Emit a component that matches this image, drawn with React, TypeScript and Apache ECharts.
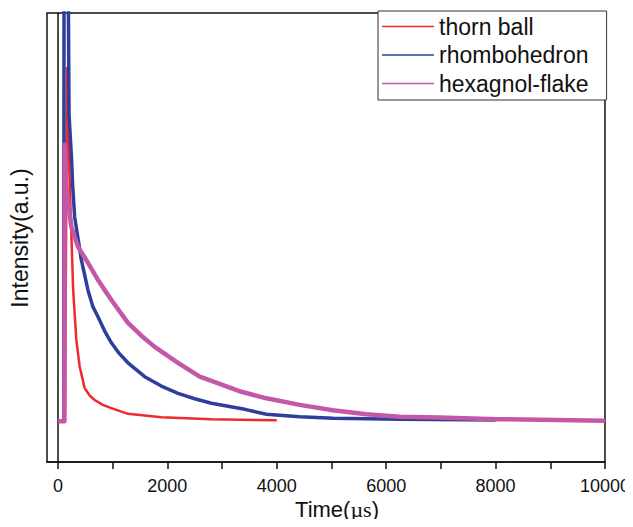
import React, { useEffect, useRef } from "react";
import * as echarts from "echarts";

// Data (time in µs, intensity in arbitrary units)
const seriesNames = ["thorn ball", "rhombohedron", "hexagnol-flake"];
const seriesColors = ["#ee2a2e", "#2f3e9c", "#c558a6"];

const thornBall: [number, number][] = [
  [0, 0], [128, 0], [168, 86.5], [196, 66.5], [278, 32.2], [336, 19.9],
  [397, 13.4], [488, 8.1], [580, 6.3], [671, 5.2], [820, 4.0], [977, 3.2],
  [1280, 1.8], [1891, 0.95], [2806, 0.45], [4000, 0.2],
];

const rhombohedron: [number, number][] = [
  [0, 0], [108, 0], [112, 130], [178, 130], [203, 75], [250, 64],
  [268, 58], [305, 50.1], [428, 39.5], [549, 32.1], [640, 28.0],
  [732, 25.6], [850, 22.2], [977, 19.2], [1120, 16.6], [1280, 14.3],
  [1586, 10.9], [1890, 8.6], [2195, 6.8], [2500, 5.5], [2806, 4.4],
  [3415, 2.9], [3812, 1.7], [4421, 1.1], [5030, 0.7], [6250, 0.5],
  [8000, 0.3],
];

const hexagnolFlake: [number, number][] = [
  [0, 0], [118, 0], [123, 67.7], [154, 57.4], [245, 47.6], [366, 42.7],
  [549, 38.8], [732, 34.6], [977, 29.7], [1280, 24.1], [1520, 21.0],
  [1769, 18.2], [2195, 14.3], [2592, 10.9], [2806, 9.9], [3354, 7.2],
  [3812, 5.6], [4421, 4.0], [5024, 2.7], [5641, 1.7], [6250, 1.1],
  [6981, 0.9], [8018, 0.5], [10000, 0.1],
];

const xTickValues = [0, 1000, 2000, 3000, 4000, 5000, 6000, 7000, 8000, 9000, 10000];
const xLabelValues = [0, 2000, 4000, 6000, 8000, 10000];

const FONT = "'Liberation Sans', Arial, sans-serif";

export default function App() {
  const ref = useRef<HTMLDivElement>(null);

  useEffect(() => {
    if (!ref.current) return;
    const chart = echarts.init(ref.current, undefined, { renderer: "svg" });
    const datasets = [thornBall, rhombohedron, hexagnolFlake];
    const widths = [2.5, 3.5, 4.5];
    chart.setOption({
      animation: false,
      backgroundColor: "#ffffff",
      grid: {
        left: 47,
        top: 13,
        right: 28,
        bottom: 65,
        show: true,
        borderColor: "#111",
        borderWidth: 1.5,
        backgroundColor: "transparent",
      },
      legend: {
        orient: "vertical",
        left: 378,
        top: 11,
        padding: [4, 18, 5, 4],
        itemGap: 5.5,
        itemWidth: 52,
        itemHeight: 1.5,
        icon: "rect",
        backgroundColor: "#fff",
        borderColor: "#333",
        borderWidth: 1,
        textStyle: { fontFamily: FONT, fontSize: 23, color: "#111", lineHeight: 23 },
        data: seriesNames,
        z: 10,
      },
      xAxis: {
        type: "value",
        min: -200,
        max: 10000,
        splitLine: { show: false },
        axisLine: { show: true, onZero: false, lineStyle: { color: "#111", width: 1.5 } },
        axisTick: {
          show: true,
          inside: false,
          length: 7,
          customValues: xTickValues,
          lineStyle: { color: "#111", width: 1.5 },
        },
        axisLabel: {
          show: true,
          customValues: xLabelValues,
          formatter: (v: number) => String(v),
          margin: 15,
          fontFamily: FONT,
          fontSize: 18,
          color: "#111",
        },
      },
      yAxis: {
        type: "value",
        min: -10,
        max: 100,
        axisLine: { show: true, lineStyle: { color: "#111", width: 1.5 } },
        axisTick: { show: false },
        axisLabel: { show: false },
        splitLine: { show: false },
      },
      graphic: [
        {
          type: "text",
          x: 337,
          y: 509,
          style: {
            text: "Time({mu|µs})",
            fontFamily: FONT,
            fontSize: 22,
            fill: "#111",
            align: "center",
            verticalAlign: "middle",
            rich: {
              mu: { fontFamily: "'Liberation Serif', serif", fontSize: 22, fill: "#111" },
            },
          },
        },
        {
          type: "text",
          x: 20,
          y: 238,
          rotation: Math.PI / 2,
          style: {
            text: "Intensity(a.u.)",
            fontFamily: FONT,
            fontSize: 23,
            fill: "#111",
            align: "center",
            verticalAlign: "middle",
          },
        },
      ],
      series: seriesNames.map((name, i) => ({
        name,
        type: "line",
        data: datasets[i],
        symbol: "none",
        showSymbol: false,
        clip: true,
        color: seriesColors[i],
        lineStyle: { color: seriesColors[i], width: widths[i], join: "round" },
        z: 2 + i,
      })),
    });
    return () => chart.dispose();
  }, []);

  return <div ref={ref} style={{ width: 633, height: 527, margin: -8 }} />;
}
